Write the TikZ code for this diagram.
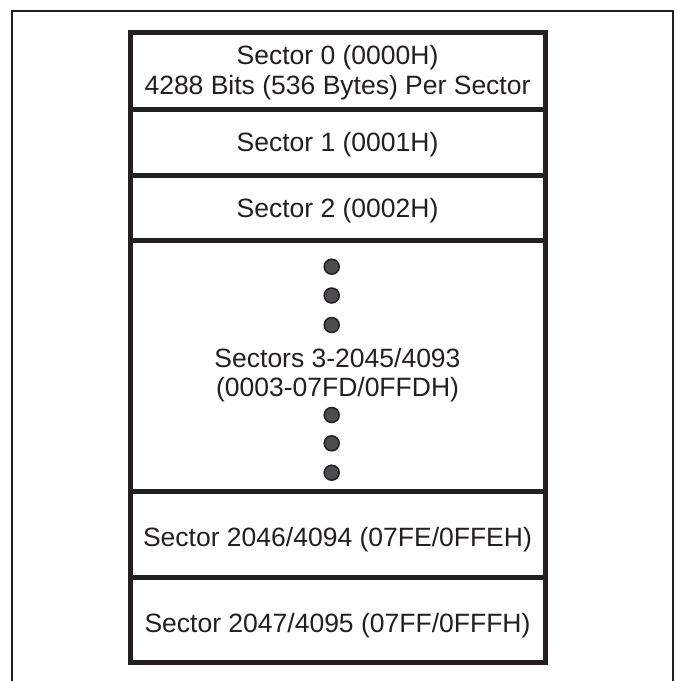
\documentclass[tikz,border=0pt]{standalone}
\usepackage{fontspec}
\setmainfont{Liberation Sans}
\definecolor{ink}{HTML}{231F20}
\definecolor{dotgray}{HTML}{4D4D4F}
\begin{document}
\begin{tikzpicture}[x=1pt,y=-1pt,
  sectorbox/.style={draw=ink, line width=5pt, rectangle, minimum width=415pt,
    inner sep=0pt, text=ink, font=\fontsize{26.5}{30}\selectfont, align=center},
  sectortext/.style={text=ink, font=\fontsize{26.5}{30}\selectfont, align=center, inner sep=0pt},
  dotmark/.style={circle, draw=ink, fill=dotgray, line width=1.5pt, minimum size=15pt, inner sep=0pt}]
\useasboundingbox (0,0) rectangle (678,681);
\draw[ink, line width=2pt] (12,681) -- (12,10.5) -- (673,10.5) -- (673,681);

\node[sectorbox, minimum height=77.5pt] (s0) at (337.5,70.75) {};
\node[sectorbox, minimum height=65.5pt] (s1) at (337.5,142.25) {};
\node[sectorbox, minimum height=65.5pt] (s2) at (337.5,207.75) {};
\node[sectorbox, minimum height=251pt] (s3) at (337.5,366) {};
\node[sectorbox, minimum height=85.5pt] (s4) at (337.5,534.25) {};
\node[sectorbox, minimum height=85pt] (s5) at (337.5,619.5) {};

\node[sectortext, anchor=base] (t0a) at (337.5,64.5) {Sector 0 (0000H)};
\node[sectortext, anchor=base] (t0b) at (337.5,94.5) {4288 Bits (536 Bytes) Per Sector};
\node[sectortext, anchor=base] (t1) at (337.5,151.5) {Sector 1 (0001H)};
\node[sectortext, anchor=base] (t2) at (337.5,217) {Sector 2 (0002H)};
\node[sectortext, anchor=base] (t3a) at (337.5,367.5) {Sectors 3-2045/4093};
\node[sectortext, anchor=base] (t3b) at (337.5,396.5) {(0003-07FD/0FFDH)};
\node[sectortext, anchor=base] (t4) at (337.5,546.5) {Sector 2046/4094 (07FE/0FFEH)};
\node[sectortext, anchor=base] (t5) at (337.5,632) {Sector 2047/4095 (07FF/0FFFH)};

\node[dotmark] (d1) at (331.7,266.7) {};
\node[dotmark] (d2) at (331.7,295.5) {};
\node[dotmark] (d3) at (331.7,325) {};
\node[dotmark] (d4) at (331.7,415) {};
\node[dotmark] (d5) at (331.7,443.3) {};
\node[dotmark] (d6) at (331.7,472.7) {};
\end{tikzpicture}
\end{document}
